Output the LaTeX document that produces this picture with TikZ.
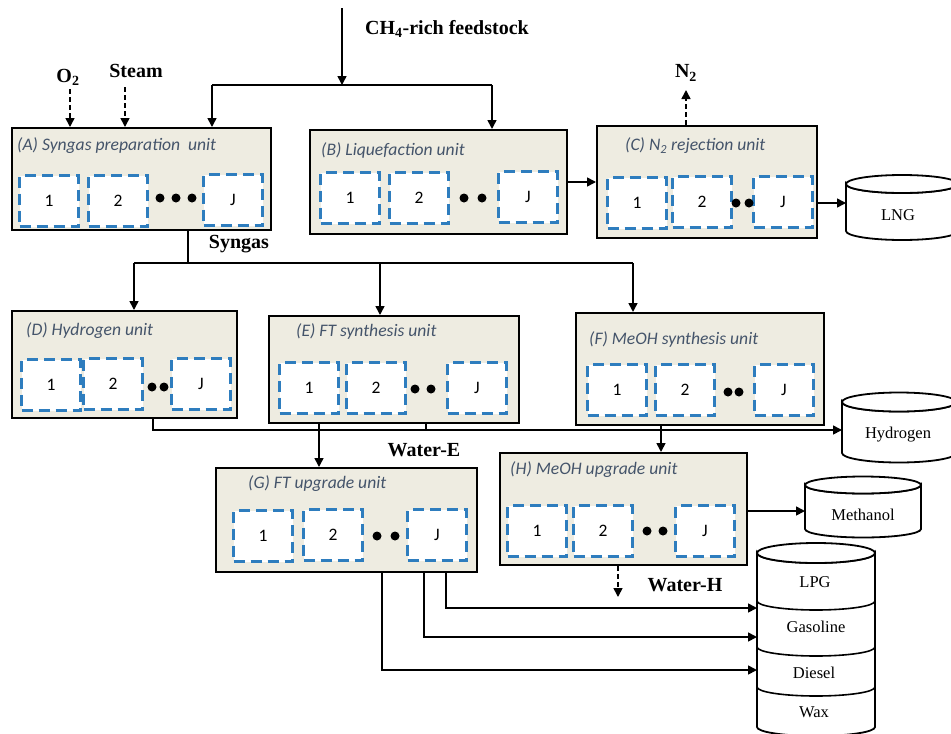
\documentclass[tikz,border=0pt]{standalone}
\usepackage{fontspec}
\setmainfont{Liberation Serif}
\newfontfamily\carlito{Carlito}
\usetikzlibrary{arrows.meta}
\definecolor{unitbeige}{RGB}{238,236,225}
\definecolor{labelslate}{RGB}{68,84,106}
\definecolor{cellblue}{RGB}{46,125,190}

\begin{document}
\begin{tikzpicture}[x=1pt, y=-1pt,
    unitbox/.style={draw=black, line width=2pt, fill=unitbeige, inner sep=0pt},
    cell/.style={draw=cellblue, line width=2.6pt, dash pattern=on 11pt off 6pt, fill=white, inner sep=0pt,
        minimum width=59pt, minimum height=51pt, font=\carlito\fontsize{17.5}{20}\selectfont},
    unitlabel/.style={anchor=west, inner sep=0pt, text=labelslate, font=\carlito\itshape\fontsize{17.6}{20}\selectfont},
    stream/.style={inner sep=0pt, font=\bfseries\fontsize{20}{24}\selectfont},
    product/.style={inner sep=0pt, font=\fontsize{16.5}{20}\selectfont},
    pipe/.style={line width=1.6pt},
    flow/.style={pipe, -{Triangle[length=9pt,width=9pt]}},
    dashflow/.style={flow, dash pattern=on 5pt off 3pt},
    tank/.style={draw=black, line width=1.8pt, fill=white}]
    \useasboundingbox (0,0) rectangle (951,734);

    % (A) syngas preparation
    \node[unitbox, minimum width=259pt, minimum height=102pt] (A) at (141.5,179) {};
    \node[unitlabel] (Alabel) at (17,146) {(A) Syngas preparation\ \ unit};
    \node[cell] (A1) at (49,201) {1};
    \node[cell] (A2) at (118,201) {2};
    \node[cell] (AJ) at (233,200) {J};
    \fill[black] (160,198) circle (4.5pt);
    \fill[black] (176,198) circle (4.5pt);
    \fill[black] (192,198) circle (4.5pt);

    % (B) liquefaction
    \node[unitbox, minimum width=257pt, minimum height=104pt] (B) at (438.5,182) {};
    \node[unitlabel] (Blabel) at (321,150) {(B) Liquefaction unit};
    \node[cell] (B1) at (350,198) {1};
    \node[cell] (B2) at (419,198) {2};
    \node[cell] (BJ) at (528,197) {J};
    \fill[black] (464,198) circle (4.5pt);
    \fill[black] (482,198) circle (4.5pt);

    % (C) N2 rejection
    \node[unitbox, minimum width=220pt, minimum height=112pt] (C) at (707,182) {};
    \node[unitlabel] (Clabel) at (625,146) {(C) N\textsubscript{2} rejection unit};
    \node[cell] (C1) at (637,203) {1};
    \node[cell] (C2) at (702,202) {2};
    \node[cell] (CJ) at (783,202) {J};
    \fill[black] (736,203) circle (4.5pt);
    \fill[black] (749,203) circle (4.5pt);

    % (D) hydrogen
    \node[unitbox, minimum width=225pt, minimum height=107pt] (D) at (124.5,364.5) {};
    \node[unitlabel] (Dlabel) at (26,331) {(D) Hydrogen unit};
    \node[cell] (D1) at (51,385) {1};
    \node[cell] (D2) at (113,384) {2};
    \node[cell] (DJ) at (201,384) {J};
    \fill[black] (152,387) circle (4.5pt);
    \fill[black] (164,387) circle (4.5pt);

    % (E) FT synthesis
    \node[unitbox, minimum width=250pt, minimum height=107pt] (E) at (394,369.5) {};
    \node[unitlabel] (Elabel) at (296,331) {(E) FT synthesis unit};
    \node[cell] (E1) at (309,388) {1};
    \node[cell] (E2) at (376,388) {2};
    \node[cell] (EJ) at (477,388) {J};
    \fill[black] (415,389) circle (4.5pt);
    \fill[black] (431,389) circle (4.5pt);

    % (F) MeOH synthesis
    \node[unitbox, minimum width=248pt, minimum height=112pt] (F) at (700,369) {};
    \node[unitlabel] (Flabel) at (589,339) {(F) MeOH synthesis unit};
    \node[cell] (F1) at (617,390) {1};
    \node[cell] (F2) at (685,390) {2};
    \node[cell] (FJ) at (784,390) {J};
    \fill[black] (728,392) circle (4.5pt);
    \fill[black] (739,392) circle (4.5pt);

    % (G) FT upgrade
    \node[unitbox, minimum width=261pt, minimum height=104pt] (G) at (346.5,520) {};
    \node[unitlabel] (Glabel) at (248,484) {(G) FT upgrade unit};
    \node[cell] (G1) at (263,536) {1};
    \node[cell] (G2) at (333,535) {2};
    \node[cell] (GJ) at (437,535) {J};
    \fill[black] (377,536) circle (4.5pt);
    \fill[black] (395,536) circle (4.5pt);

    % (H) MeOH upgrade
    \node[unitbox, minimum width=247pt, minimum height=112pt] (H) at (623.5,509) {};
    \node[unitlabel] (Hlabel) at (510,470) {(H) MeOH upgrade unit};
    \node[cell] (H1) at (537,531) {1};
    \node[cell] (H2) at (603,531) {2};
    \node[cell] (HJ) at (705,531) {J};
    \fill[black] (647,531) circle (4.5pt);
    \fill[black] (663,531) circle (4.5pt);

    % storage tanks
    \draw[tank] (846,184) -- (846,231) arc[start angle=180, end angle=360, x radius=56pt, y radius=9pt]
        -- (958,184) arc[start angle=0, end angle=-180, x radius=56pt, y radius=9pt] -- cycle;
    \draw[tank] (902,184) ellipse [x radius=56pt, y radius=9pt];
    \node[product] (lng) at (898,215) {LNG};

    \draw[tank] (842,402) -- (842,453) arc[start angle=180, end angle=360, x radius=57pt, y radius=9.5pt]
        -- (956,402) arc[start angle=0, end angle=-180, x radius=57pt, y radius=9.5pt] -- cycle;
    \draw[tank] (899,402) ellipse [x radius=57pt, y radius=9.5pt];
    \node[product] (hydrogen) at (898,435) {Hydrogen};

    \draw[tank] (805,485) -- (805,529) arc[start angle=180, end angle=360, x radius=58pt, y radius=8.5pt]
        -- (921,485) arc[start angle=0, end angle=-180, x radius=58pt, y radius=8.5pt] -- cycle;
    \draw[tank] (863,485) ellipse [x radius=58pt, y radius=8.5pt];
    \node[product] (methanol) at (863,515) {Methanol};

    \draw[tank] (757,553) -- (757,727) arc[start angle=180, end angle=360, x radius=59pt, y radius=9pt]
        -- (875,553) arc[start angle=0, end angle=-180, x radius=59pt, y radius=10pt] -- cycle;
    \draw[tank] (816,553) ellipse [x radius=59pt, y radius=10pt];
    \draw[pipe] (757,601) arc[start angle=180, end angle=360, x radius=59pt, y radius=9pt];
    \draw[pipe] (757,647) arc[start angle=180, end angle=360, x radius=59pt, y radius=9pt];
    \draw[pipe] (757,687) arc[start angle=180, end angle=360, x radius=59pt, y radius=9pt];
    \node[product] (lpg) at (815,582) {LPG};
    \node[product] (gasoline) at (816,627) {Gasoline};
    \node[product] (diesel) at (814,673) {Diesel};
    \node[product] (wax) at (814,712) {Wax};

    % feedstock and utilities
    \node[stream, anchor=west] (feedlabel) at (365,29) {CH\textsubscript{4}-rich feedstock};
    \node[stream] (o2label) at (68,77) {O\textsubscript{2}};
    \node[stream] (steamlabel) at (136,71) {Steam};
    \node[stream] (n2label) at (686,73) {N\textsubscript{2}};
    \node[stream] (synlabel) at (239,244) {Syngas};
    \node[stream] (waterElabel) at (424,450) {Water-E};
    \node[stream] (waterHlabel) at (685,585) {Water-H};

    \coordinate (feedtop) at (342,8);
    \coordinate (feedsplit) at (342,85);
    \coordinate (feedA) at (212,85);
    \coordinate (feedB) at (492,85);
    \draw[flow] (feedtop) -- (feedsplit);
    \draw[pipe] (feedA) -- (feedB);
    \draw[flow] (feedA) -- (feedA |- A.north);
    \draw[flow] (feedB) -- (feedB |- B.north);

    \coordinate (o2in) at (70,89);
    \coordinate (steamin) at (125,87);
    \draw[dashflow] (o2in) -- (o2in |- A.north);
    \draw[dashflow] (steamin) -- (steamin |- A.north);

    \coordinate (n2out) at (686,90);
    \draw[dashflow] (n2out |- C.north) -- (n2out);
    \draw[flow] (B.east) -- (C.west);
    \coordinate (lngin) at (846,203);
    \draw[flow] (C.east |- lngin) -- (lngin);

    % syngas header
    \coordinate (synsplit) at (188,263);
    \coordinate (synD) at (134,263);
    \coordinate (synE) at (380,263);
    \coordinate (synF) at (633,263);
    \draw[pipe] (synsplit |- A.south) -- (synsplit);
    \draw[pipe] (synD) -- (synF);
    \draw[flow] (synD) -- (synD |- D.north);
    \draw[flow] (synE) -- (synE |- E.north);
    \draw[flow] (synF) -- (synF |- F.north);

    % hydrogen product line
    \coordinate (h2turn) at (153,430);
    \coordinate (h2in) at (842,430);
    \draw[flow] (h2turn |- D.south) -- (h2turn) -- (h2in);

    % synthesis to upgrade
    \coordinate (waterE) at (426,429);
    \draw[pipe] (waterE |- E.south) -- (waterE);
    \coordinate (ftline) at (319,445);
    \draw[flow] (ftline |- E.south) -- (ftline |- G.north);
    \coordinate (meohline) at (661,440);
    \draw[flow] (meohline |- F.south) -- (meohline |- H.north);

    % upgrade products
    \coordinate (meohin) at (805,511);
    \draw[flow] (H.east |- meohin) -- (meohin);
    \coordinate (waterH) at (618,597);
    \draw[dashflow] (waterH |- H.south) -- (waterH);

    \coordinate (lpgout) at (446,580);
    \coordinate (gasout) at (424,580);
    \coordinate (dieselout) at (382,580);
    \coordinate (lpgin) at (757,608);
    \coordinate (gasin) at (757,637);
    \coordinate (dieselin) at (757,670);
    \draw[flow] (lpgout |- G.south) |- (lpgin);
    \draw[flow] (gasout |- G.south) |- (gasin);
    \draw[flow] (dieselout |- G.south) |- (dieselin);
\end{tikzpicture}
\end{document}
